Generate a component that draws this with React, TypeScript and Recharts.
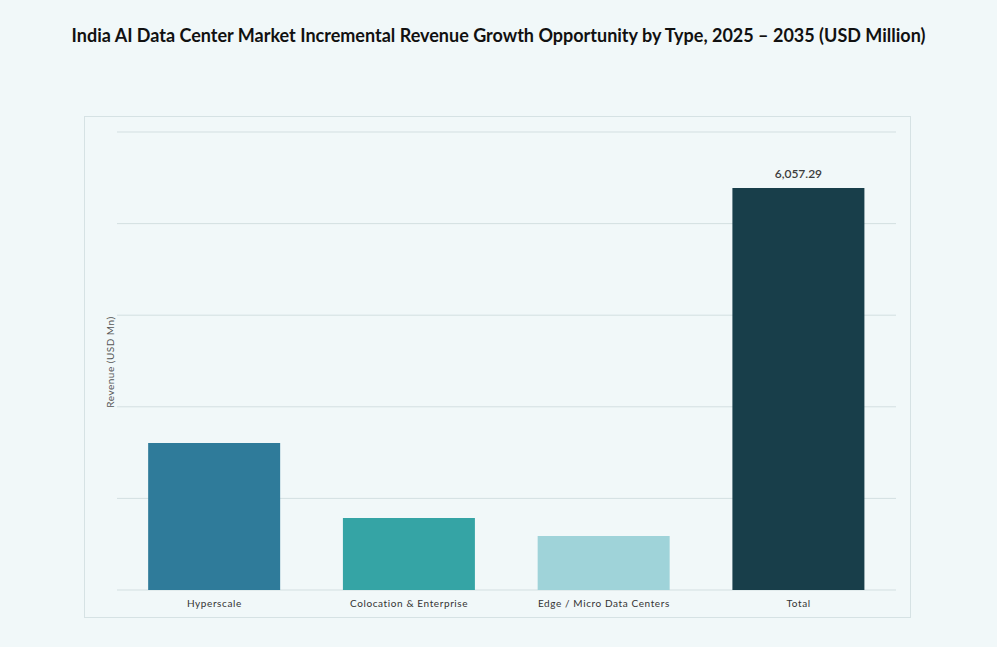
import React from 'react';
import { BarChart, Bar, XAxis, YAxis, CartesianGrid, Cell, LabelList } from 'recharts';

const categories = ['Hyperscale', 'Colocation & Enterprise', 'Edge / Micro Data Centers', 'Total'];
const revenue = [2215, 1085, 815, 6057.29];
const barColors = ['#2f7b9a', '#35a4a5', '#9fd3d9', '#183e4a'];
const yTicks = [0, 1380, 2760, 4140, 5520, 6900];

const data = categories.map((name, i) => ({ name, value: revenue[i] }));

const font = "'Lato', 'DejaVu Sans', sans-serif";

const App: React.FC = () => {
  return (
    <div
      style={{
        position: 'absolute',
        left: 0,
        top: 0,
        width: 997,
        height: 647,
        background: '#f1f8f9',
        fontFamily: font,
      }}
    >
      <div
        style={{
          position: 'absolute',
          top: 24,
          left: 0,
          width: 997,
          textAlign: 'center',
          fontSize: 18,
          fontWeight: 700,
          color: '#111',
        }}
      >
        India AI Data Center Market Incremental Revenue Growth Opportunity by Type, 2025 – 2035 (USD Million)
      </div>
      <div
        style={{
          position: 'absolute',
          left: 84,
          top: 116,
          width: 825,
          height: 500,
          border: '1px solid #d6e2e4',
        }}
      >
        <BarChart
          width={825}
          height={500}
          data={data}
          margin={{ top: 15, right: 14, left: 32, bottom: 0 }}
          barCategoryGap="16%"
        >
          <CartesianGrid vertical={false} stroke="#d3dfe1" />
          <XAxis
            dataKey="name"
            height={27}
            axisLine={false}
            tickLine={false}
            interval={0}
            tick={{ fontSize: 10, fill: '#333', fontFamily: font, letterSpacing: 0.6 }}
            tickMargin={4}
          />
          <YAxis hide domain={[0, 6900]} ticks={yTicks} />
          <Bar dataKey="value" isAnimationActive={false}>
            {data.map((d, i) => (
              <Cell key={d.name} fill={barColors[i]} />
            ))}
            <LabelList
              dataKey="value"
              position="top"
              content={(props: any) => {
                if (props.index !== 3) return null;
                return (
                  <text
                    x={props.x + props.width / 2}
                    y={props.y - 10}
                    textAnchor="middle"
                    fontSize={12}
                    fontWeight={600}
                    fill="#3d3d3d"
                    fontFamily={font}
                  >
                    {Number(props.value).toLocaleString('en-US', { minimumFractionDigits: 2 })}
                  </text>
                );
              }}
            />
          </Bar>
        </BarChart>
      </div>
      <div
        style={{
          position: 'absolute',
          left: 110,
          top: 362,
          transform: 'translate(-50%, -50%) rotate(-90deg)',
          fontSize: 10,
          color: '#555',
          whiteSpace: 'nowrap',
          letterSpacing: 0.5,
        }}
      >
        Revenue (USD Mn)
      </div>
    </div>
  );
};

export default App;
